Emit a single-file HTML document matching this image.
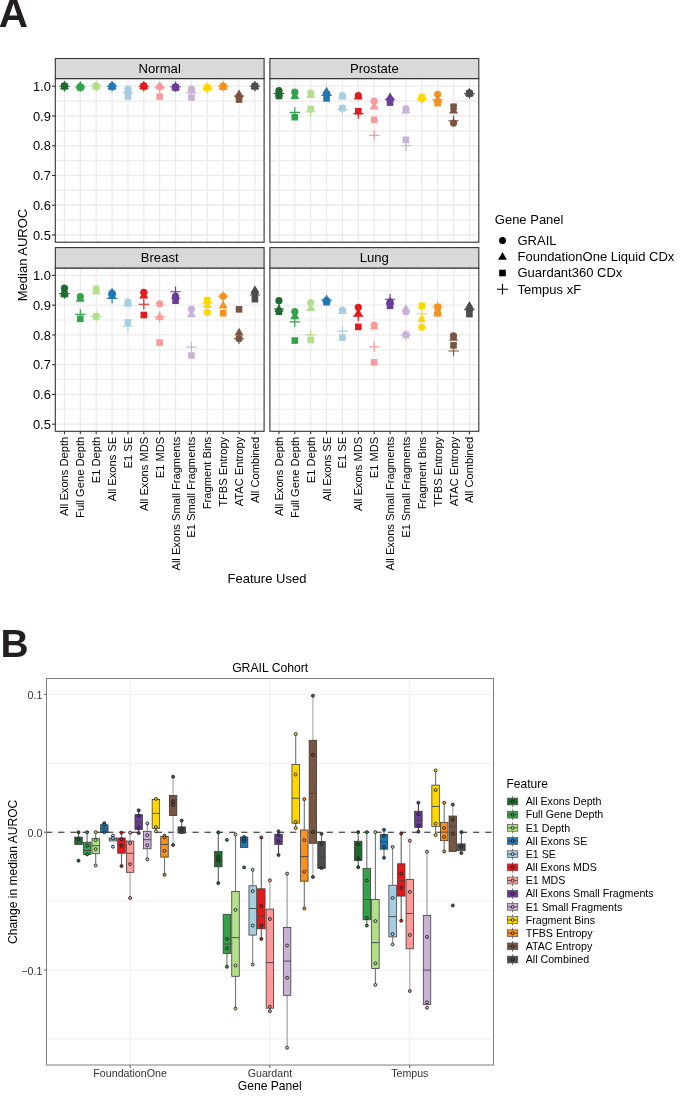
<!DOCTYPE html>
<html><head><meta charset="utf-8"><style>
html,body{margin:0;padding:0;background:#fff;width:685px;height:1097px;overflow:hidden;}
body{position:relative;font-family:"Liberation Sans", sans-serif;}
svg text{font-family:"Liberation Sans", sans-serif;}
svg{will-change:transform;}
</style></head><body>
<svg width="685" height="1097" viewBox="0 0 685 1097" style="position:absolute;left:0;top:0">
<text x="-1.2" y="27.2" font-family='Liberation Sans' font-weight="bold" font-size="40.5" fill="#231f20">A</text>
<rect x="55.3" y="78.6" width="208.8" height="163.6" fill="#fff"/>
<line x1="55.3" x2="264.1" y1="235" y2="235" stroke="#ebebeb" stroke-width="1.3"/>
<line x1="55.3" x2="264.1" y1="220.12" y2="220.12" stroke="#ebebeb" stroke-width="1.1"/>
<line x1="55.3" x2="264.1" y1="205.24" y2="205.24" stroke="#ebebeb" stroke-width="1.3"/>
<line x1="55.3" x2="264.1" y1="190.36" y2="190.36" stroke="#ebebeb" stroke-width="1.1"/>
<line x1="55.3" x2="264.1" y1="175.48" y2="175.48" stroke="#ebebeb" stroke-width="1.3"/>
<line x1="55.3" x2="264.1" y1="160.6" y2="160.6" stroke="#ebebeb" stroke-width="1.1"/>
<line x1="55.3" x2="264.1" y1="145.72" y2="145.72" stroke="#ebebeb" stroke-width="1.3"/>
<line x1="55.3" x2="264.1" y1="130.84" y2="130.84" stroke="#ebebeb" stroke-width="1.1"/>
<line x1="55.3" x2="264.1" y1="115.96" y2="115.96" stroke="#ebebeb" stroke-width="1.3"/>
<line x1="55.3" x2="264.1" y1="101.08" y2="101.08" stroke="#ebebeb" stroke-width="1.1"/>
<line x1="55.3" x2="264.1" y1="86.2" y2="86.2" stroke="#ebebeb" stroke-width="1.3"/>
<line x1="64.45" x2="64.45" y1="78.6" y2="242.2" stroke="#ebebeb" stroke-width="1.3"/>
<line x1="80.32" x2="80.32" y1="78.6" y2="242.2" stroke="#ebebeb" stroke-width="1.3"/>
<line x1="96.19" x2="96.19" y1="78.6" y2="242.2" stroke="#ebebeb" stroke-width="1.3"/>
<line x1="112.07" x2="112.07" y1="78.6" y2="242.2" stroke="#ebebeb" stroke-width="1.3"/>
<line x1="127.94" x2="127.94" y1="78.6" y2="242.2" stroke="#ebebeb" stroke-width="1.3"/>
<line x1="143.81" x2="143.81" y1="78.6" y2="242.2" stroke="#ebebeb" stroke-width="1.3"/>
<line x1="159.68" x2="159.68" y1="78.6" y2="242.2" stroke="#ebebeb" stroke-width="1.3"/>
<line x1="175.55" x2="175.55" y1="78.6" y2="242.2" stroke="#ebebeb" stroke-width="1.3"/>
<line x1="191.43" x2="191.43" y1="78.6" y2="242.2" stroke="#ebebeb" stroke-width="1.3"/>
<line x1="207.3" x2="207.3" y1="78.6" y2="242.2" stroke="#ebebeb" stroke-width="1.3"/>
<line x1="223.17" x2="223.17" y1="78.6" y2="242.2" stroke="#ebebeb" stroke-width="1.3"/>
<line x1="239.04" x2="239.04" y1="78.6" y2="242.2" stroke="#ebebeb" stroke-width="1.3"/>
<line x1="254.91" x2="254.91" y1="78.6" y2="242.2" stroke="#ebebeb" stroke-width="1.3"/>
<circle cx="64.45" cy="86.2" r="3.6" fill="#1f6b2f"/>
<path d="M64.45 81.36L68.95 89.16L59.95 89.16Z" fill="#1f6b2f"/>
<rect x="61.15" y="82.9" width="6.6" height="6.6" fill="#1f6b2f"/>
<path d="M59.25 86.2H69.65M64.45 81V91.4" stroke="#1f6b2f" stroke-width="1.15" fill="none"/>
<circle cx="80.32" cy="86.8" r="3.6" fill="#33a34a"/>
<path d="M80.32 81.36L84.82 89.16L75.82 89.16Z" fill="#33a34a"/>
<rect x="77.02" y="84.09" width="6.6" height="6.6" fill="#33a34a"/>
<path d="M75.12 86.8H85.52M80.32 81.6V92" stroke="#33a34a" stroke-width="1.15" fill="none"/>
<circle cx="96.19" cy="86.2" r="3.6" fill="#b2df8a"/>
<path d="M96.19 81.36L100.69 89.16L91.69 89.16Z" fill="#b2df8a"/>
<rect x="92.89" y="82.9" width="6.6" height="6.6" fill="#b2df8a"/>
<path d="M90.99 86.2H101.39M96.19 81V91.4" stroke="#b2df8a" stroke-width="1.15" fill="none"/>
<circle cx="112.07" cy="86.2" r="3.6" fill="#1f78b4"/>
<path d="M112.07 81.36L116.57 89.16L107.57 89.16Z" fill="#1f78b4"/>
<rect x="108.77" y="83.5" width="6.6" height="6.6" fill="#1f78b4"/>
<path d="M106.87 86.2H117.27M112.07 81V91.4" stroke="#1f78b4" stroke-width="1.15" fill="none"/>
<circle cx="127.94" cy="89.18" r="3.6" fill="#a6cee3"/>
<path d="M127.94 85.83L132.44 93.63L123.44 93.63Z" fill="#a6cee3"/>
<rect x="124.64" y="93.32" width="6.6" height="6.6" fill="#a6cee3"/>
<path d="M122.74 92.15H133.14M127.94 86.95V97.35" stroke="#a6cee3" stroke-width="1.15" fill="none"/>
<circle cx="143.81" cy="86.2" r="3.6" fill="#e31a1c"/>
<path d="M143.81 81.36L148.31 89.16L139.31 89.16Z" fill="#e31a1c"/>
<rect x="140.51" y="82.9" width="6.6" height="6.6" fill="#e31a1c"/>
<path d="M138.61 86.2H149.01M143.81 81V91.4" stroke="#e31a1c" stroke-width="1.15" fill="none"/>
<circle cx="159.68" cy="86.8" r="3.6" fill="#fb9a99"/>
<path d="M159.68 81.36L164.18 89.16L155.18 89.16Z" fill="#fb9a99"/>
<rect x="156.38" y="93.32" width="6.6" height="6.6" fill="#fb9a99"/>
<path d="M154.48 87.69H164.88M159.68 82.49V92.89" stroke="#fb9a99" stroke-width="1.15" fill="none"/>
<circle cx="175.55" cy="86.8" r="3.6" fill="#6a3d9a"/>
<path d="M175.55 81.96L180.05 89.76L171.05 89.76Z" fill="#6a3d9a"/>
<rect x="172.25" y="84.39" width="6.6" height="6.6" fill="#6a3d9a"/>
<path d="M170.35 86.8H180.75M175.55 81.6V92" stroke="#6a3d9a" stroke-width="1.15" fill="none"/>
<circle cx="191.43" cy="89.18" r="3.6" fill="#cab2d6"/>
<path d="M191.43 85.23L195.93 93.03L186.93 93.03Z" fill="#cab2d6"/>
<rect x="188.13" y="94.21" width="6.6" height="6.6" fill="#cab2d6"/>
<path d="M186.23 93.04H196.63M191.43 87.84V98.24" stroke="#cab2d6" stroke-width="1.15" fill="none"/>
<circle cx="207.3" cy="87.69" r="3.6" fill="#ffd700"/>
<path d="M207.3 82.26L211.8 90.06L202.8 90.06Z" fill="#ffd700"/>
<rect x="204" y="84.39" width="6.6" height="6.6" fill="#ffd700"/>
<path d="M202.1 88.28H212.5M207.3 83.08V93.48" stroke="#ffd700" stroke-width="1.15" fill="none"/>
<circle cx="223.17" cy="86.2" r="3.6" fill="#f8911e"/>
<path d="M223.17 81.96L227.67 89.76L218.67 89.76Z" fill="#f8911e"/>
<rect x="219.87" y="83.5" width="6.6" height="6.6" fill="#f8911e"/>
<path d="M217.97 86.2H228.37M223.17 81V91.4" stroke="#f8911e" stroke-width="1.15" fill="none"/>
<circle cx="239.04" cy="96.62" r="3.6" fill="#7a5541"/>
<path d="M239.04 89.4L243.54 97.2L234.54 97.2Z" fill="#7a5541"/>
<rect x="235.74" y="96.29" width="6.6" height="6.6" fill="#7a5541"/>
<path d="M233.84 96.02H244.24M239.04 90.82V101.22" stroke="#7a5541" stroke-width="1.15" fill="none"/>
<circle cx="254.91" cy="86.2" r="3.6" fill="#4d4d4d"/>
<path d="M254.91 81.36L259.41 89.16L250.41 89.16Z" fill="#4d4d4d"/>
<rect x="251.61" y="82.9" width="6.6" height="6.6" fill="#4d4d4d"/>
<path d="M249.71 86.2H260.11M254.91 81V91.4" stroke="#4d4d4d" stroke-width="1.15" fill="none"/>
<rect x="55.3" y="78.6" width="208.8" height="163.6" fill="none" stroke="#333" stroke-width="1.1"/>
<rect x="55.3" y="58.5" width="208.8" height="20.1" fill="#d9d9d9" stroke="#333" stroke-width="1.1"/>
<text x="159.7" y="73.3" text-anchor="middle" font-family="Liberation Sans" font-size="13.1" fill="#000">Normal</text>
<line x1="52" x2="55.3" y1="235" y2="235" stroke="#333" stroke-width="1.1"/>
<text x="50.8" y="239.6" text-anchor="end" font-family="Liberation Sans" font-size="12.9" fill="#000">0.5</text>
<line x1="52" x2="55.3" y1="205.24" y2="205.24" stroke="#333" stroke-width="1.1"/>
<text x="50.8" y="209.84" text-anchor="end" font-family="Liberation Sans" font-size="12.9" fill="#000">0.6</text>
<line x1="52" x2="55.3" y1="175.48" y2="175.48" stroke="#333" stroke-width="1.1"/>
<text x="50.8" y="180.08" text-anchor="end" font-family="Liberation Sans" font-size="12.9" fill="#000">0.7</text>
<line x1="52" x2="55.3" y1="145.72" y2="145.72" stroke="#333" stroke-width="1.1"/>
<text x="50.8" y="150.32" text-anchor="end" font-family="Liberation Sans" font-size="12.9" fill="#000">0.8</text>
<line x1="52" x2="55.3" y1="115.96" y2="115.96" stroke="#333" stroke-width="1.1"/>
<text x="50.8" y="120.56" text-anchor="end" font-family="Liberation Sans" font-size="12.9" fill="#000">0.9</text>
<line x1="52" x2="55.3" y1="86.2" y2="86.2" stroke="#333" stroke-width="1.1"/>
<text x="50.8" y="90.8" text-anchor="end" font-family="Liberation Sans" font-size="12.9" fill="#000">1.0</text>
<rect x="269.9" y="78.6" width="208.9" height="163.6" fill="#fff"/>
<line x1="269.9" x2="478.8" y1="235" y2="235" stroke="#ebebeb" stroke-width="1.3"/>
<line x1="269.9" x2="478.8" y1="220.12" y2="220.12" stroke="#ebebeb" stroke-width="1.1"/>
<line x1="269.9" x2="478.8" y1="205.24" y2="205.24" stroke="#ebebeb" stroke-width="1.3"/>
<line x1="269.9" x2="478.8" y1="190.36" y2="190.36" stroke="#ebebeb" stroke-width="1.1"/>
<line x1="269.9" x2="478.8" y1="175.48" y2="175.48" stroke="#ebebeb" stroke-width="1.3"/>
<line x1="269.9" x2="478.8" y1="160.6" y2="160.6" stroke="#ebebeb" stroke-width="1.1"/>
<line x1="269.9" x2="478.8" y1="145.72" y2="145.72" stroke="#ebebeb" stroke-width="1.3"/>
<line x1="269.9" x2="478.8" y1="130.84" y2="130.84" stroke="#ebebeb" stroke-width="1.1"/>
<line x1="269.9" x2="478.8" y1="115.96" y2="115.96" stroke="#ebebeb" stroke-width="1.3"/>
<line x1="269.9" x2="478.8" y1="101.08" y2="101.08" stroke="#ebebeb" stroke-width="1.1"/>
<line x1="269.9" x2="478.8" y1="86.2" y2="86.2" stroke="#ebebeb" stroke-width="1.3"/>
<line x1="278.95" x2="278.95" y1="78.6" y2="242.2" stroke="#ebebeb" stroke-width="1.3"/>
<line x1="294.82" x2="294.82" y1="78.6" y2="242.2" stroke="#ebebeb" stroke-width="1.3"/>
<line x1="310.69" x2="310.69" y1="78.6" y2="242.2" stroke="#ebebeb" stroke-width="1.3"/>
<line x1="326.57" x2="326.57" y1="78.6" y2="242.2" stroke="#ebebeb" stroke-width="1.3"/>
<line x1="342.44" x2="342.44" y1="78.6" y2="242.2" stroke="#ebebeb" stroke-width="1.3"/>
<line x1="358.31" x2="358.31" y1="78.6" y2="242.2" stroke="#ebebeb" stroke-width="1.3"/>
<line x1="374.18" x2="374.18" y1="78.6" y2="242.2" stroke="#ebebeb" stroke-width="1.3"/>
<line x1="390.05" x2="390.05" y1="78.6" y2="242.2" stroke="#ebebeb" stroke-width="1.3"/>
<line x1="405.93" x2="405.93" y1="78.6" y2="242.2" stroke="#ebebeb" stroke-width="1.3"/>
<line x1="421.8" x2="421.8" y1="78.6" y2="242.2" stroke="#ebebeb" stroke-width="1.3"/>
<line x1="437.67" x2="437.67" y1="78.6" y2="242.2" stroke="#ebebeb" stroke-width="1.3"/>
<line x1="453.54" x2="453.54" y1="78.6" y2="242.2" stroke="#ebebeb" stroke-width="1.3"/>
<line x1="469.41" x2="469.41" y1="78.6" y2="242.2" stroke="#ebebeb" stroke-width="1.3"/>
<circle cx="278.95" cy="90.66" r="3.6" fill="#1f6b2f"/>
<path d="M278.95 88.8L283.45 96.6L274.45 96.6Z" fill="#1f6b2f"/>
<rect x="275.65" y="92.72" width="6.6" height="6.6" fill="#1f6b2f"/>
<path d="M273.75 93.34H284.15M278.95 88.14V98.54" stroke="#1f6b2f" stroke-width="1.15" fill="none"/>
<circle cx="294.82" cy="92.15" r="3.6" fill="#33a34a"/>
<path d="M294.82 91.18L299.32 98.98L290.32 98.98Z" fill="#33a34a"/>
<rect x="291.52" y="113.85" width="6.6" height="6.6" fill="#33a34a"/>
<path d="M289.62 112.39H300.02M294.82 107.19V117.59" stroke="#33a34a" stroke-width="1.15" fill="none"/>
<circle cx="310.69" cy="93.04" r="3.6" fill="#b2df8a"/>
<path d="M310.69 90.29L315.19 98.09L306.19 98.09Z" fill="#b2df8a"/>
<rect x="307.39" y="105.82" width="6.6" height="6.6" fill="#b2df8a"/>
<path d="M305.49 111.79H315.89M310.69 106.59V116.99" stroke="#b2df8a" stroke-width="1.15" fill="none"/>
<circle cx="326.57" cy="93.64" r="3.6" fill="#1f78b4"/>
<path d="M326.57 86.72L331.07 94.52L322.07 94.52Z" fill="#1f78b4"/>
<rect x="323.27" y="95.1" width="6.6" height="6.6" fill="#1f78b4"/>
<path d="M321.37 95.43H331.77M326.57 90.23V100.63" stroke="#1f78b4" stroke-width="1.15" fill="none"/>
<circle cx="342.44" cy="95.72" r="3.6" fill="#a6cee3"/>
<path d="M342.44 91.78L346.94 99.58L337.94 99.58Z" fill="#a6cee3"/>
<rect x="339.14" y="104.92" width="6.6" height="6.6" fill="#a6cee3"/>
<path d="M337.24 109.41H347.64M342.44 104.21V114.61" stroke="#a6cee3" stroke-width="1.15" fill="none"/>
<circle cx="358.31" cy="95.72" r="3.6" fill="#e31a1c"/>
<path d="M358.31 91.78L362.81 99.58L353.81 99.58Z" fill="#e31a1c"/>
<rect x="355.01" y="107.9" width="6.6" height="6.6" fill="#e31a1c"/>
<path d="M353.11 113.58H363.51M358.31 108.38V118.78" stroke="#e31a1c" stroke-width="1.15" fill="none"/>
<circle cx="374.18" cy="101.08" r="3.6" fill="#fb9a99"/>
<path d="M374.18 101.6L378.68 109.4L369.68 109.4Z" fill="#fb9a99"/>
<rect x="370.88" y="116.53" width="6.6" height="6.6" fill="#fb9a99"/>
<path d="M368.98 135.3H379.38M374.18 130.1V140.5" stroke="#fb9a99" stroke-width="1.15" fill="none"/>
<circle cx="390.05" cy="99.59" r="3.6" fill="#6a3d9a"/>
<path d="M390.05 92.38L394.55 100.18L385.55 100.18Z" fill="#6a3d9a"/>
<rect x="386.75" y="99.27" width="6.6" height="6.6" fill="#6a3d9a"/>
<path d="M384.85 99.29H395.25M390.05 94.09V104.49" stroke="#6a3d9a" stroke-width="1.15" fill="none"/>
<circle cx="405.93" cy="108.82" r="3.6" fill="#cab2d6"/>
<path d="M405.93 105.77L410.43 113.57L401.43 113.57Z" fill="#cab2d6"/>
<rect x="402.63" y="136.47" width="6.6" height="6.6" fill="#cab2d6"/>
<path d="M400.73 145.72H411.13M405.93 140.52V150.92" stroke="#cab2d6" stroke-width="1.15" fill="none"/>
<circle cx="421.8" cy="98.4" r="3.6" fill="#ffd700"/>
<path d="M421.8 93.27L426.3 101.07L417.3 101.07Z" fill="#ffd700"/>
<rect x="418.5" y="94.21" width="6.6" height="6.6" fill="#ffd700"/>
<path d="M416.6 98.7H427M421.8 93.5V103.9" stroke="#ffd700" stroke-width="1.15" fill="none"/>
<circle cx="437.67" cy="94.24" r="3.6" fill="#f8911e"/>
<path d="M437.67 94.76L442.17 102.56L433.17 102.56Z" fill="#f8911e"/>
<rect x="434.37" y="99.86" width="6.6" height="6.6" fill="#f8911e"/>
<path d="M432.47 99.59H442.87M437.67 94.39V104.79" stroke="#f8911e" stroke-width="1.15" fill="none"/>
<circle cx="453.54" cy="123.1" r="3.6" fill="#7a5541"/>
<path d="M453.54 105.77L458.04 113.57L449.04 113.57Z" fill="#7a5541"/>
<rect x="450.24" y="103.43" width="6.6" height="6.6" fill="#7a5541"/>
<path d="M448.34 120.72H458.74M453.54 115.52V125.92" stroke="#7a5541" stroke-width="1.15" fill="none"/>
<circle cx="469.41" cy="92.75" r="3.6" fill="#4d4d4d"/>
<path d="M469.41 87.91L473.91 95.71L464.91 95.71Z" fill="#4d4d4d"/>
<rect x="466.11" y="90.34" width="6.6" height="6.6" fill="#4d4d4d"/>
<path d="M464.21 93.64H474.61M469.41 88.44V98.84" stroke="#4d4d4d" stroke-width="1.15" fill="none"/>
<rect x="269.9" y="78.6" width="208.9" height="163.6" fill="none" stroke="#333" stroke-width="1.1"/>
<rect x="269.9" y="58.5" width="208.9" height="20.1" fill="#d9d9d9" stroke="#333" stroke-width="1.1"/>
<text x="374.35" y="73.3" text-anchor="middle" font-family="Liberation Sans" font-size="13.1" fill="#000">Prostate</text>
<rect x="55.3" y="268" width="208.8" height="163.3" fill="#fff"/>
<line x1="55.3" x2="264.1" y1="424.2" y2="424.2" stroke="#ebebeb" stroke-width="1.3"/>
<line x1="55.3" x2="264.1" y1="409.32" y2="409.32" stroke="#ebebeb" stroke-width="1.1"/>
<line x1="55.3" x2="264.1" y1="394.44" y2="394.44" stroke="#ebebeb" stroke-width="1.3"/>
<line x1="55.3" x2="264.1" y1="379.56" y2="379.56" stroke="#ebebeb" stroke-width="1.1"/>
<line x1="55.3" x2="264.1" y1="364.68" y2="364.68" stroke="#ebebeb" stroke-width="1.3"/>
<line x1="55.3" x2="264.1" y1="349.8" y2="349.8" stroke="#ebebeb" stroke-width="1.1"/>
<line x1="55.3" x2="264.1" y1="334.92" y2="334.92" stroke="#ebebeb" stroke-width="1.3"/>
<line x1="55.3" x2="264.1" y1="320.04" y2="320.04" stroke="#ebebeb" stroke-width="1.1"/>
<line x1="55.3" x2="264.1" y1="305.16" y2="305.16" stroke="#ebebeb" stroke-width="1.3"/>
<line x1="55.3" x2="264.1" y1="290.28" y2="290.28" stroke="#ebebeb" stroke-width="1.1"/>
<line x1="55.3" x2="264.1" y1="275.4" y2="275.4" stroke="#ebebeb" stroke-width="1.3"/>
<line x1="64.45" x2="64.45" y1="268" y2="431.3" stroke="#ebebeb" stroke-width="1.3"/>
<line x1="80.32" x2="80.32" y1="268" y2="431.3" stroke="#ebebeb" stroke-width="1.3"/>
<line x1="96.19" x2="96.19" y1="268" y2="431.3" stroke="#ebebeb" stroke-width="1.3"/>
<line x1="112.07" x2="112.07" y1="268" y2="431.3" stroke="#ebebeb" stroke-width="1.3"/>
<line x1="127.94" x2="127.94" y1="268" y2="431.3" stroke="#ebebeb" stroke-width="1.3"/>
<line x1="143.81" x2="143.81" y1="268" y2="431.3" stroke="#ebebeb" stroke-width="1.3"/>
<line x1="159.68" x2="159.68" y1="268" y2="431.3" stroke="#ebebeb" stroke-width="1.3"/>
<line x1="175.55" x2="175.55" y1="268" y2="431.3" stroke="#ebebeb" stroke-width="1.3"/>
<line x1="191.43" x2="191.43" y1="268" y2="431.3" stroke="#ebebeb" stroke-width="1.3"/>
<line x1="207.3" x2="207.3" y1="268" y2="431.3" stroke="#ebebeb" stroke-width="1.3"/>
<line x1="223.17" x2="223.17" y1="268" y2="431.3" stroke="#ebebeb" stroke-width="1.3"/>
<line x1="239.04" x2="239.04" y1="268" y2="431.3" stroke="#ebebeb" stroke-width="1.3"/>
<line x1="254.91" x2="254.91" y1="268" y2="431.3" stroke="#ebebeb" stroke-width="1.3"/>
<circle cx="64.45" cy="288.2" r="3.6" fill="#1f6b2f"/>
<path d="M64.45 288.72L68.95 296.52L59.95 296.52Z" fill="#1f6b2f"/>
<rect x="61.15" y="290.85" width="6.6" height="6.6" fill="#1f6b2f"/>
<path d="M59.25 293.55H69.65M64.45 288.35V298.75" stroke="#1f6b2f" stroke-width="1.15" fill="none"/>
<circle cx="80.32" cy="296.53" r="3.6" fill="#33a34a"/>
<path d="M80.32 294.07L84.82 301.87L75.82 301.87Z" fill="#33a34a"/>
<rect x="77.02" y="315.55" width="6.6" height="6.6" fill="#33a34a"/>
<path d="M75.12 314.39H85.52M80.32 309.19V319.59" stroke="#33a34a" stroke-width="1.15" fill="none"/>
<circle cx="96.19" cy="288.79" r="3.6" fill="#b2df8a"/>
<path d="M96.19 286.34L100.69 294.14L91.69 294.14Z" fill="#b2df8a"/>
<rect x="92.89" y="313.17" width="6.6" height="6.6" fill="#b2df8a"/>
<path d="M90.99 316.47H101.39M96.19 311.27V321.67" stroke="#b2df8a" stroke-width="1.15" fill="none"/>
<circle cx="112.07" cy="293.26" r="3.6" fill="#1f78b4"/>
<path d="M112.07 287.82L116.57 295.62L107.57 295.62Z" fill="#1f78b4"/>
<rect x="108.77" y="291.44" width="6.6" height="6.6" fill="#1f78b4"/>
<path d="M106.87 298.32H117.27M112.07 293.12V303.52" stroke="#1f78b4" stroke-width="1.15" fill="none"/>
<circle cx="127.94" cy="302.18" r="3.6" fill="#a6cee3"/>
<path d="M127.94 298.84L132.44 306.64L123.44 306.64Z" fill="#a6cee3"/>
<rect x="124.64" y="319.12" width="6.6" height="6.6" fill="#a6cee3"/>
<path d="M122.74 326.29H133.14M127.94 321.09V331.49" stroke="#a6cee3" stroke-width="1.15" fill="none"/>
<circle cx="143.81" cy="292.36" r="3.6" fill="#e31a1c"/>
<path d="M143.81 290.8L148.31 298.6L139.31 298.6Z" fill="#e31a1c"/>
<rect x="140.51" y="311.68" width="6.6" height="6.6" fill="#e31a1c"/>
<path d="M138.61 304.27H149.01M143.81 299.07V309.47" stroke="#e31a1c" stroke-width="1.15" fill="none"/>
<circle cx="159.68" cy="303.97" r="3.6" fill="#fb9a99"/>
<path d="M159.68 311.93L164.18 319.73L155.18 319.73Z" fill="#fb9a99"/>
<rect x="156.38" y="339.36" width="6.6" height="6.6" fill="#fb9a99"/>
<path d="M154.48 316.77H164.88M159.68 311.57V321.97" stroke="#fb9a99" stroke-width="1.15" fill="none"/>
<circle cx="175.55" cy="296.23" r="3.6" fill="#6a3d9a"/>
<path d="M175.55 291.1L180.05 298.9L171.05 298.9Z" fill="#6a3d9a"/>
<rect x="172.25" y="297.4" width="6.6" height="6.6" fill="#6a3d9a"/>
<path d="M170.35 291.77H180.75M175.55 286.57V296.97" stroke="#6a3d9a" stroke-width="1.15" fill="none"/>
<circle cx="191.43" cy="309.03" r="3.6" fill="#cab2d6"/>
<path d="M191.43 309.55L195.93 317.35L186.93 317.35Z" fill="#cab2d6"/>
<rect x="188.13" y="352.15" width="6.6" height="6.6" fill="#cab2d6"/>
<path d="M186.23 347.12H196.63M191.43 341.92V352.32" stroke="#cab2d6" stroke-width="1.15" fill="none"/>
<circle cx="207.3" cy="312.3" r="3.6" fill="#ffd700"/>
<path d="M207.3 300.32L211.8 308.12L202.8 308.12Z" fill="#ffd700"/>
<rect x="204" y="296.8" width="6.6" height="6.6" fill="#ffd700"/>
<path d="M202.1 303.08H212.5M207.3 297.88V308.28" stroke="#ffd700" stroke-width="1.15" fill="none"/>
<circle cx="223.17" cy="296.23" r="3.6" fill="#f8911e"/>
<path d="M223.17 300.62L227.67 308.42L218.67 308.42Z" fill="#f8911e"/>
<rect x="219.87" y="309.9" width="6.6" height="6.6" fill="#f8911e"/>
<path d="M217.97 296.23H228.37M223.17 291.03V301.43" stroke="#f8911e" stroke-width="1.15" fill="none"/>
<circle cx="239.04" cy="338.49" r="3.6" fill="#7a5541"/>
<path d="M239.04 327.7L243.54 335.5L234.54 335.5Z" fill="#7a5541"/>
<rect x="235.74" y="306.03" width="6.6" height="6.6" fill="#7a5541"/>
<path d="M233.84 338.79H244.24M239.04 333.59V343.99" stroke="#7a5541" stroke-width="1.15" fill="none"/>
<circle cx="254.91" cy="293.26" r="3.6" fill="#4d4d4d"/>
<path d="M254.91 285.15L259.41 292.95L250.41 292.95Z" fill="#4d4d4d"/>
<rect x="251.61" y="295.91" width="6.6" height="6.6" fill="#4d4d4d"/>
<path d="M249.71 295.04H260.11M254.91 289.84V300.24" stroke="#4d4d4d" stroke-width="1.15" fill="none"/>
<rect x="55.3" y="268" width="208.8" height="163.3" fill="none" stroke="#333" stroke-width="1.1"/>
<rect x="55.3" y="247.6" width="208.8" height="20.4" fill="#d9d9d9" stroke="#333" stroke-width="1.1"/>
<text x="159.7" y="262.4" text-anchor="middle" font-family="Liberation Sans" font-size="13.1" fill="#000">Breast</text>
<line x1="52" x2="55.3" y1="424.2" y2="424.2" stroke="#333" stroke-width="1.1"/>
<text x="50.8" y="428.8" text-anchor="end" font-family="Liberation Sans" font-size="12.9" fill="#000">0.5</text>
<line x1="52" x2="55.3" y1="394.44" y2="394.44" stroke="#333" stroke-width="1.1"/>
<text x="50.8" y="399.04" text-anchor="end" font-family="Liberation Sans" font-size="12.9" fill="#000">0.6</text>
<line x1="52" x2="55.3" y1="364.68" y2="364.68" stroke="#333" stroke-width="1.1"/>
<text x="50.8" y="369.28" text-anchor="end" font-family="Liberation Sans" font-size="12.9" fill="#000">0.7</text>
<line x1="52" x2="55.3" y1="334.92" y2="334.92" stroke="#333" stroke-width="1.1"/>
<text x="50.8" y="339.52" text-anchor="end" font-family="Liberation Sans" font-size="12.9" fill="#000">0.8</text>
<line x1="52" x2="55.3" y1="305.16" y2="305.16" stroke="#333" stroke-width="1.1"/>
<text x="50.8" y="309.76" text-anchor="end" font-family="Liberation Sans" font-size="12.9" fill="#000">0.9</text>
<line x1="52" x2="55.3" y1="275.4" y2="275.4" stroke="#333" stroke-width="1.1"/>
<text x="50.8" y="280" text-anchor="end" font-family="Liberation Sans" font-size="12.9" fill="#000">1.0</text>
<line x1="64.45" x2="64.45" y1="431.3" y2="434.3" stroke="#333" stroke-width="1.1"/>
<text transform="translate(68.45 436.8) rotate(-90)" text-anchor="end" font-family="Liberation Sans" font-size="11.15" fill="#000">All Exons Depth</text>
<line x1="80.32" x2="80.32" y1="431.3" y2="434.3" stroke="#333" stroke-width="1.1"/>
<text transform="translate(84.32 436.8) rotate(-90)" text-anchor="end" font-family="Liberation Sans" font-size="11.15" fill="#000">Full Gene Depth</text>
<line x1="96.19" x2="96.19" y1="431.3" y2="434.3" stroke="#333" stroke-width="1.1"/>
<text transform="translate(100.19 436.8) rotate(-90)" text-anchor="end" font-family="Liberation Sans" font-size="11.15" fill="#000">E1 Depth</text>
<line x1="112.07" x2="112.07" y1="431.3" y2="434.3" stroke="#333" stroke-width="1.1"/>
<text transform="translate(116.07 436.8) rotate(-90)" text-anchor="end" font-family="Liberation Sans" font-size="11.15" fill="#000">All Exons SE</text>
<line x1="127.94" x2="127.94" y1="431.3" y2="434.3" stroke="#333" stroke-width="1.1"/>
<text transform="translate(131.94 436.8) rotate(-90)" text-anchor="end" font-family="Liberation Sans" font-size="11.15" fill="#000">E1 SE</text>
<line x1="143.81" x2="143.81" y1="431.3" y2="434.3" stroke="#333" stroke-width="1.1"/>
<text transform="translate(147.81 436.8) rotate(-90)" text-anchor="end" font-family="Liberation Sans" font-size="11.15" fill="#000">All Exons MDS</text>
<line x1="159.68" x2="159.68" y1="431.3" y2="434.3" stroke="#333" stroke-width="1.1"/>
<text transform="translate(163.68 436.8) rotate(-90)" text-anchor="end" font-family="Liberation Sans" font-size="11.15" fill="#000">E1 MDS</text>
<line x1="175.55" x2="175.55" y1="431.3" y2="434.3" stroke="#333" stroke-width="1.1"/>
<text transform="translate(179.55 436.8) rotate(-90)" text-anchor="end" font-family="Liberation Sans" font-size="11.15" fill="#000">All Exons Small Fragments</text>
<line x1="191.43" x2="191.43" y1="431.3" y2="434.3" stroke="#333" stroke-width="1.1"/>
<text transform="translate(195.43 436.8) rotate(-90)" text-anchor="end" font-family="Liberation Sans" font-size="11.15" fill="#000">E1 Small Fragments</text>
<line x1="207.3" x2="207.3" y1="431.3" y2="434.3" stroke="#333" stroke-width="1.1"/>
<text transform="translate(211.3 436.8) rotate(-90)" text-anchor="end" font-family="Liberation Sans" font-size="11.15" fill="#000">Fragment Bins</text>
<line x1="223.17" x2="223.17" y1="431.3" y2="434.3" stroke="#333" stroke-width="1.1"/>
<text transform="translate(227.17 436.8) rotate(-90)" text-anchor="end" font-family="Liberation Sans" font-size="11.15" fill="#000">TFBS Entropy</text>
<line x1="239.04" x2="239.04" y1="431.3" y2="434.3" stroke="#333" stroke-width="1.1"/>
<text transform="translate(243.04 436.8) rotate(-90)" text-anchor="end" font-family="Liberation Sans" font-size="11.15" fill="#000">ATAC Entropy</text>
<line x1="254.91" x2="254.91" y1="431.3" y2="434.3" stroke="#333" stroke-width="1.1"/>
<text transform="translate(258.91 436.8) rotate(-90)" text-anchor="end" font-family="Liberation Sans" font-size="11.15" fill="#000">All Combined</text>
<rect x="269.9" y="268" width="208.9" height="163.3" fill="#fff"/>
<line x1="269.9" x2="478.8" y1="424.2" y2="424.2" stroke="#ebebeb" stroke-width="1.3"/>
<line x1="269.9" x2="478.8" y1="409.32" y2="409.32" stroke="#ebebeb" stroke-width="1.1"/>
<line x1="269.9" x2="478.8" y1="394.44" y2="394.44" stroke="#ebebeb" stroke-width="1.3"/>
<line x1="269.9" x2="478.8" y1="379.56" y2="379.56" stroke="#ebebeb" stroke-width="1.1"/>
<line x1="269.9" x2="478.8" y1="364.68" y2="364.68" stroke="#ebebeb" stroke-width="1.3"/>
<line x1="269.9" x2="478.8" y1="349.8" y2="349.8" stroke="#ebebeb" stroke-width="1.1"/>
<line x1="269.9" x2="478.8" y1="334.92" y2="334.92" stroke="#ebebeb" stroke-width="1.3"/>
<line x1="269.9" x2="478.8" y1="320.04" y2="320.04" stroke="#ebebeb" stroke-width="1.1"/>
<line x1="269.9" x2="478.8" y1="305.16" y2="305.16" stroke="#ebebeb" stroke-width="1.3"/>
<line x1="269.9" x2="478.8" y1="290.28" y2="290.28" stroke="#ebebeb" stroke-width="1.1"/>
<line x1="269.9" x2="478.8" y1="275.4" y2="275.4" stroke="#ebebeb" stroke-width="1.3"/>
<line x1="278.95" x2="278.95" y1="268" y2="431.3" stroke="#ebebeb" stroke-width="1.3"/>
<line x1="294.82" x2="294.82" y1="268" y2="431.3" stroke="#ebebeb" stroke-width="1.3"/>
<line x1="310.69" x2="310.69" y1="268" y2="431.3" stroke="#ebebeb" stroke-width="1.3"/>
<line x1="326.57" x2="326.57" y1="268" y2="431.3" stroke="#ebebeb" stroke-width="1.3"/>
<line x1="342.44" x2="342.44" y1="268" y2="431.3" stroke="#ebebeb" stroke-width="1.3"/>
<line x1="358.31" x2="358.31" y1="268" y2="431.3" stroke="#ebebeb" stroke-width="1.3"/>
<line x1="374.18" x2="374.18" y1="268" y2="431.3" stroke="#ebebeb" stroke-width="1.3"/>
<line x1="390.05" x2="390.05" y1="268" y2="431.3" stroke="#ebebeb" stroke-width="1.3"/>
<line x1="405.93" x2="405.93" y1="268" y2="431.3" stroke="#ebebeb" stroke-width="1.3"/>
<line x1="421.8" x2="421.8" y1="268" y2="431.3" stroke="#ebebeb" stroke-width="1.3"/>
<line x1="437.67" x2="437.67" y1="268" y2="431.3" stroke="#ebebeb" stroke-width="1.3"/>
<line x1="453.54" x2="453.54" y1="268" y2="431.3" stroke="#ebebeb" stroke-width="1.3"/>
<line x1="469.41" x2="469.41" y1="268" y2="431.3" stroke="#ebebeb" stroke-width="1.3"/>
<circle cx="278.95" cy="300.7" r="3.6" fill="#1f6b2f"/>
<path d="M278.95 304.19L283.45 311.99L274.45 311.99Z" fill="#1f6b2f"/>
<rect x="275.65" y="308.41" width="6.6" height="6.6" fill="#1f6b2f"/>
<path d="M273.75 309.03H284.15M278.95 303.83V314.23" stroke="#1f6b2f" stroke-width="1.15" fill="none"/>
<circle cx="294.82" cy="311.71" r="3.6" fill="#33a34a"/>
<path d="M294.82 311.34L299.32 319.14L290.32 319.14Z" fill="#33a34a"/>
<rect x="291.52" y="337.27" width="6.6" height="6.6" fill="#33a34a"/>
<path d="M289.62 321.83H300.02M294.82 316.63V327.03" stroke="#33a34a" stroke-width="1.15" fill="none"/>
<circle cx="310.69" cy="302.48" r="3.6" fill="#b2df8a"/>
<path d="M310.69 303.3L315.19 311.1L306.19 311.1Z" fill="#b2df8a"/>
<rect x="307.39" y="336.68" width="6.6" height="6.6" fill="#b2df8a"/>
<path d="M305.49 334.92H315.89M310.69 329.72V340.12" stroke="#b2df8a" stroke-width="1.15" fill="none"/>
<circle cx="326.57" cy="300.7" r="3.6" fill="#1f78b4"/>
<path d="M326.57 294.67L331.07 302.47L322.07 302.47Z" fill="#1f78b4"/>
<rect x="323.27" y="298.88" width="6.6" height="6.6" fill="#1f78b4"/>
<path d="M321.37 300.1H331.77M326.57 294.9V305.3" stroke="#1f78b4" stroke-width="1.15" fill="none"/>
<circle cx="342.44" cy="310.22" r="3.6" fill="#a6cee3"/>
<path d="M342.44 306.28L346.94 314.08L337.94 314.08Z" fill="#a6cee3"/>
<rect x="339.14" y="334.3" width="6.6" height="6.6" fill="#a6cee3"/>
<path d="M337.24 331.05H347.64M342.44 325.85V336.25" stroke="#a6cee3" stroke-width="1.15" fill="none"/>
<circle cx="358.31" cy="307.24" r="3.6" fill="#e31a1c"/>
<path d="M358.31 308.36L362.81 316.16L353.81 316.16Z" fill="#e31a1c"/>
<rect x="355.01" y="323.58" width="6.6" height="6.6" fill="#e31a1c"/>
<path d="M353.11 316.17H363.51M358.31 310.97V321.37" stroke="#e31a1c" stroke-width="1.15" fill="none"/>
<circle cx="374.18" cy="325.1" r="3.6" fill="#fb9a99"/>
<path d="M374.18 321.75L378.68 329.55L369.68 329.55Z" fill="#fb9a99"/>
<rect x="370.88" y="359" width="6.6" height="6.6" fill="#fb9a99"/>
<path d="M368.98 346.82H379.38M374.18 341.62V352.02" stroke="#fb9a99" stroke-width="1.15" fill="none"/>
<circle cx="390.05" cy="302.18" r="3.6" fill="#6a3d9a"/>
<path d="M390.05 296.75L394.55 304.55L385.55 304.55Z" fill="#6a3d9a"/>
<rect x="386.75" y="302.46" width="6.6" height="6.6" fill="#6a3d9a"/>
<path d="M384.85 299.21H395.25M390.05 294.01V304.41" stroke="#6a3d9a" stroke-width="1.15" fill="none"/>
<circle cx="405.93" cy="311.71" r="3.6" fill="#cab2d6"/>
<path d="M405.93 303.9L410.43 311.7L401.43 311.7Z" fill="#cab2d6"/>
<rect x="402.63" y="331.62" width="6.6" height="6.6" fill="#cab2d6"/>
<path d="M400.73 334.92H411.13M405.93 329.72V340.12" stroke="#cab2d6" stroke-width="1.15" fill="none"/>
<circle cx="421.8" cy="327.18" r="3.6" fill="#ffd700"/>
<path d="M421.8 314.31L426.3 322.11L417.3 322.11Z" fill="#ffd700"/>
<rect x="418.5" y="302.46" width="6.6" height="6.6" fill="#ffd700"/>
<path d="M416.6 313.79H427M421.8 308.59V318.99" stroke="#ffd700" stroke-width="1.15" fill="none"/>
<circle cx="437.67" cy="313.2" r="3.6" fill="#f8911e"/>
<path d="M437.67 308.36L442.17 316.16L433.17 316.16Z" fill="#f8911e"/>
<rect x="434.37" y="303.65" width="6.6" height="6.6" fill="#f8911e"/>
<path d="M432.47 306.95H442.87M437.67 301.75V312.15" stroke="#f8911e" stroke-width="1.15" fill="none"/>
<circle cx="453.54" cy="335.81" r="3.6" fill="#7a5541"/>
<path d="M453.54 333.06L458.04 340.86L449.04 340.86Z" fill="#7a5541"/>
<rect x="450.24" y="342.04" width="6.6" height="6.6" fill="#7a5541"/>
<path d="M448.34 350.99H458.74M453.54 345.79V356.19" stroke="#7a5541" stroke-width="1.15" fill="none"/>
<circle cx="469.41" cy="309.62" r="3.6" fill="#4d4d4d"/>
<path d="M469.41 300.92L473.91 308.72L464.91 308.72Z" fill="#4d4d4d"/>
<rect x="466.11" y="310.79" width="6.6" height="6.6" fill="#4d4d4d"/>
<path d="M464.21 309.62H474.61M469.41 304.42V314.82" stroke="#4d4d4d" stroke-width="1.15" fill="none"/>
<rect x="269.9" y="268" width="208.9" height="163.3" fill="none" stroke="#333" stroke-width="1.1"/>
<rect x="269.9" y="247.6" width="208.9" height="20.4" fill="#d9d9d9" stroke="#333" stroke-width="1.1"/>
<text x="374.35" y="262.4" text-anchor="middle" font-family="Liberation Sans" font-size="13.1" fill="#000">Lung</text>
<line x1="278.95" x2="278.95" y1="431.3" y2="434.3" stroke="#333" stroke-width="1.1"/>
<text transform="translate(282.95 436.8) rotate(-90)" text-anchor="end" font-family="Liberation Sans" font-size="11.15" fill="#000">All Exons Depth</text>
<line x1="294.82" x2="294.82" y1="431.3" y2="434.3" stroke="#333" stroke-width="1.1"/>
<text transform="translate(298.82 436.8) rotate(-90)" text-anchor="end" font-family="Liberation Sans" font-size="11.15" fill="#000">Full Gene Depth</text>
<line x1="310.69" x2="310.69" y1="431.3" y2="434.3" stroke="#333" stroke-width="1.1"/>
<text transform="translate(314.69 436.8) rotate(-90)" text-anchor="end" font-family="Liberation Sans" font-size="11.15" fill="#000">E1 Depth</text>
<line x1="326.57" x2="326.57" y1="431.3" y2="434.3" stroke="#333" stroke-width="1.1"/>
<text transform="translate(330.57 436.8) rotate(-90)" text-anchor="end" font-family="Liberation Sans" font-size="11.15" fill="#000">All Exons SE</text>
<line x1="342.44" x2="342.44" y1="431.3" y2="434.3" stroke="#333" stroke-width="1.1"/>
<text transform="translate(346.44 436.8) rotate(-90)" text-anchor="end" font-family="Liberation Sans" font-size="11.15" fill="#000">E1 SE</text>
<line x1="358.31" x2="358.31" y1="431.3" y2="434.3" stroke="#333" stroke-width="1.1"/>
<text transform="translate(362.31 436.8) rotate(-90)" text-anchor="end" font-family="Liberation Sans" font-size="11.15" fill="#000">All Exons MDS</text>
<line x1="374.18" x2="374.18" y1="431.3" y2="434.3" stroke="#333" stroke-width="1.1"/>
<text transform="translate(378.18 436.8) rotate(-90)" text-anchor="end" font-family="Liberation Sans" font-size="11.15" fill="#000">E1 MDS</text>
<line x1="390.05" x2="390.05" y1="431.3" y2="434.3" stroke="#333" stroke-width="1.1"/>
<text transform="translate(394.05 436.8) rotate(-90)" text-anchor="end" font-family="Liberation Sans" font-size="11.15" fill="#000">All Exons Small Fragments</text>
<line x1="405.93" x2="405.93" y1="431.3" y2="434.3" stroke="#333" stroke-width="1.1"/>
<text transform="translate(409.93 436.8) rotate(-90)" text-anchor="end" font-family="Liberation Sans" font-size="11.15" fill="#000">E1 Small Fragments</text>
<line x1="421.8" x2="421.8" y1="431.3" y2="434.3" stroke="#333" stroke-width="1.1"/>
<text transform="translate(425.8 436.8) rotate(-90)" text-anchor="end" font-family="Liberation Sans" font-size="11.15" fill="#000">Fragment Bins</text>
<line x1="437.67" x2="437.67" y1="431.3" y2="434.3" stroke="#333" stroke-width="1.1"/>
<text transform="translate(441.67 436.8) rotate(-90)" text-anchor="end" font-family="Liberation Sans" font-size="11.15" fill="#000">TFBS Entropy</text>
<line x1="453.54" x2="453.54" y1="431.3" y2="434.3" stroke="#333" stroke-width="1.1"/>
<text transform="translate(457.54 436.8) rotate(-90)" text-anchor="end" font-family="Liberation Sans" font-size="11.15" fill="#000">ATAC Entropy</text>
<line x1="469.41" x2="469.41" y1="431.3" y2="434.3" stroke="#333" stroke-width="1.1"/>
<text transform="translate(473.41 436.8) rotate(-90)" text-anchor="end" font-family="Liberation Sans" font-size="11.15" fill="#000">All Combined</text>
<text transform="translate(27 255) rotate(-90)" text-anchor="middle" font-family="Liberation Sans" font-size="13" fill="#000">Median AUROC</text>
<text x="267" y="583" text-anchor="middle" font-family="Liberation Sans" font-size="13" fill="#000">Feature Used</text>
<text x="494.8" y="224" font-family="Liberation Sans" font-size="13" fill="#000">Gene Panel</text>
<circle cx="502.5" cy="240.6" r="3.5" fill="#000"/>
<text x="517.5" y="244.9" font-family="Liberation Sans" font-size="13" fill="#000">GRAIL</text>
<path d="M502.5 252.1L506.9 259.8L498.1 259.8Z" fill="#000"/>
<text x="517.5" y="261.1" font-family="Liberation Sans" font-size="13" fill="#000">FoundationOne Liquid CDx</text>
<rect x="499.2" y="269.7" width="6.6" height="6.6" fill="#000"/>
<text x="517.5" y="277.3" font-family="Liberation Sans" font-size="13" fill="#000">Guardant360 CDx</text>
<path d="M497 289.2H508M502.5 283.8V294.6" stroke="#000" stroke-width="1.15"/>
<text x="517.5" y="293.5" font-family="Liberation Sans" font-size="13" fill="#000">Tempus xF</text>
<text x="0.5" y="656.8" font-family="Liberation Sans" font-weight="bold" font-size="39" fill="#231f20">B</text>
<text x="270.2" y="671.9" text-anchor="middle" font-family="Liberation Sans" font-size="12.2" fill="#000">GRAIL Cohort</text>
<line x1="46.5" x2="493.5" y1="694.4" y2="694.4" stroke="#f2f2f2" stroke-width="1.3"/>
<line x1="46.5" x2="493.5" y1="763.3" y2="763.3" stroke="#f2f2f2" stroke-width="1.3"/>
<line x1="46.5" x2="493.5" y1="832.2" y2="832.2" stroke="#f2f2f2" stroke-width="1.3"/>
<line x1="46.5" x2="493.5" y1="901.1" y2="901.1" stroke="#f2f2f2" stroke-width="1.3"/>
<line x1="46.5" x2="493.5" y1="970" y2="970" stroke="#f2f2f2" stroke-width="1.3"/>
<line x1="46.5" x2="493.5" y1="1038.9" y2="1038.9" stroke="#f2f2f2" stroke-width="1.3"/>
<line x1="130.1" x2="130.1" y1="678.5" y2="1065" stroke="#f2f2f2" stroke-width="1.3"/>
<line x1="270" x2="270" y1="678.5" y2="1065" stroke="#f2f2f2" stroke-width="1.3"/>
<line x1="409.5" x2="409.5" y1="678.5" y2="1065" stroke="#f2f2f2" stroke-width="1.3"/>
<line x1="46.1" x2="493.5" y1="832.2" y2="832.2" stroke="#222" stroke-width="1.1" stroke-dasharray="6.1 6.1"/>
<line x1="78.5" x2="78.5" y1="832.2" y2="837.1" stroke="#666" stroke-width="1.15"/>
<rect x="74.75" y="837.1" width="7.5" height="7.4" fill="#1f6b2f" stroke="#333" stroke-width="0.75"/>
<line x1="74.75" x2="82.25" y1="838.6" y2="838.6" stroke="#444" stroke-width="0.9"/>
<circle cx="78.5" cy="832.2" r="1.5" fill="#1f6b2f" stroke="#111" stroke-width="0.8"/>
<circle cx="78.5" cy="838.9" r="1.5" fill="#1f6b2f" stroke="#111" stroke-width="0.8"/>
<circle cx="78.5" cy="860.7" r="1.5" fill="#1f6b2f" stroke="#111" stroke-width="0.8"/>
<line x1="87.1" x2="87.1" y1="832.2" y2="842.2" stroke="#777" stroke-width="1.15"/>
<rect x="83.35" y="842.2" width="7.5" height="12.2" fill="#33a34a" stroke="#333" stroke-width="0.75"/>
<line x1="83.35" x2="90.85" y1="850.5" y2="850.5" stroke="#444" stroke-width="0.9"/>
<circle cx="87.1" cy="832.2" r="1.5" fill="#33a34a" stroke="#111" stroke-width="0.8"/>
<circle cx="87.1" cy="845.6" r="1.5" fill="#33a34a" stroke="#111" stroke-width="0.8"/>
<circle cx="87.1" cy="854.4" r="1.5" fill="#33a34a" stroke="#111" stroke-width="0.8"/>
<line x1="95.7" x2="95.7" y1="832.2" y2="838.3" stroke="#777" stroke-width="1.15"/>
<line x1="95.7" x2="95.7" y1="853.7" y2="865.5" stroke="#777" stroke-width="1.15"/>
<rect x="91.95" y="838.3" width="7.5" height="15.4" fill="#b2df8a" stroke="#333" stroke-width="0.75"/>
<line x1="91.95" x2="99.45" y1="845.7" y2="845.7" stroke="#444" stroke-width="0.9"/>
<circle cx="95.7" cy="832.2" r="1.5" fill="#b2df8a" stroke="#111" stroke-width="0.8"/>
<circle cx="95.7" cy="840.1" r="1.5" fill="#b2df8a" stroke="#111" stroke-width="0.8"/>
<circle cx="95.7" cy="849.2" r="1.5" fill="#b2df8a" stroke="#111" stroke-width="0.8"/>
<circle cx="95.7" cy="865.5" r="1.5" fill="#b2df8a" stroke="#111" stroke-width="0.8"/>
<line x1="104.3" x2="104.3" y1="822.6" y2="824.8" stroke="#777" stroke-width="1.15"/>
<rect x="100.55" y="824.8" width="7.5" height="7.6" fill="#1f78b4" stroke="#333" stroke-width="0.75"/>
<line x1="100.55" x2="108.05" y1="828.2" y2="828.2" stroke="#444" stroke-width="0.9"/>
<circle cx="104.3" cy="823.2" r="1.5" fill="#1f78b4" stroke="#111" stroke-width="0.8"/>
<circle cx="104.3" cy="824.6" r="1.5" fill="#1f78b4" stroke="#111" stroke-width="0.8"/>
<circle cx="104.3" cy="832.2" r="1.5" fill="#1f78b4" stroke="#111" stroke-width="0.8"/>
<line x1="112.9" x2="112.9" y1="835.7" y2="838" stroke="#888" stroke-width="1.15"/>
<rect x="109.15" y="838" width="7.5" height="3" fill="#a6cee3" stroke="#333" stroke-width="0.75"/>
<line x1="109.15" x2="116.65" y1="839" y2="839" stroke="#444" stroke-width="0.9"/>
<circle cx="112.9" cy="835.7" r="1.5" fill="#a6cee3" stroke="#111" stroke-width="0.8"/>
<circle cx="112.9" cy="838.3" r="1.5" fill="#a6cee3" stroke="#111" stroke-width="0.8"/>
<circle cx="112.9" cy="846.7" r="1.5" fill="#a6cee3" stroke="#111" stroke-width="0.8"/>
<line x1="121.5" x2="121.5" y1="832.7" y2="838" stroke="#666" stroke-width="1.15"/>
<line x1="121.5" x2="121.5" y1="853.2" y2="866" stroke="#666" stroke-width="1.15"/>
<rect x="117.75" y="838" width="7.5" height="15.2" fill="#e31a1c" stroke="#333" stroke-width="0.75"/>
<line x1="117.75" x2="125.25" y1="845.3" y2="845.3" stroke="#444" stroke-width="0.9"/>
<circle cx="121.5" cy="832.7" r="1.5" fill="#e31a1c" stroke="#111" stroke-width="0.8"/>
<circle cx="121.5" cy="839.2" r="1.5" fill="#e31a1c" stroke="#111" stroke-width="0.8"/>
<circle cx="121.5" cy="845.7" r="1.5" fill="#e31a1c" stroke="#111" stroke-width="0.8"/>
<circle cx="121.5" cy="866" r="1.5" fill="#e31a1c" stroke="#111" stroke-width="0.8"/>
<line x1="130.1" x2="130.1" y1="832.7" y2="841" stroke="#aaa" stroke-width="1.15"/>
<line x1="130.1" x2="130.1" y1="872.3" y2="898" stroke="#aaa" stroke-width="1.15"/>
<rect x="126.35" y="841" width="7.5" height="31.3" fill="#fb9a99" stroke="#333" stroke-width="0.75"/>
<line x1="126.35" x2="133.85" y1="853.3" y2="853.3" stroke="#444" stroke-width="0.9"/>
<circle cx="130.1" cy="832.7" r="1.5" fill="#fb9a99" stroke="#111" stroke-width="0.8"/>
<circle cx="130.1" cy="843.2" r="1.5" fill="#fb9a99" stroke="#111" stroke-width="0.8"/>
<circle cx="130.1" cy="864.2" r="1.5" fill="#fb9a99" stroke="#111" stroke-width="0.8"/>
<circle cx="130.1" cy="898" r="1.5" fill="#fb9a99" stroke="#111" stroke-width="0.8"/>
<line x1="138.7" x2="138.7" y1="810.3" y2="814.7" stroke="#444" stroke-width="1.15"/>
<line x1="138.7" x2="138.7" y1="829.6" y2="833.1" stroke="#444" stroke-width="1.15"/>
<rect x="134.95" y="814.7" width="7.5" height="14.9" fill="#6a3d9a" stroke="#333" stroke-width="0.75"/>
<line x1="134.95" x2="142.45" y1="822.2" y2="822.2" stroke="#444" stroke-width="0.9"/>
<circle cx="138.7" cy="810.3" r="1.5" fill="#6a3d9a" stroke="#111" stroke-width="0.8"/>
<circle cx="138.7" cy="815.9" r="1.5" fill="#6a3d9a" stroke="#111" stroke-width="0.8"/>
<circle cx="138.7" cy="827.5" r="1.5" fill="#6a3d9a" stroke="#111" stroke-width="0.8"/>
<circle cx="138.7" cy="833.1" r="1.5" fill="#6a3d9a" stroke="#111" stroke-width="0.8"/>
<line x1="147.3" x2="147.3" y1="823.4" y2="831.3" stroke="#999" stroke-width="1.15"/>
<line x1="147.3" x2="147.3" y1="848.8" y2="859.3" stroke="#999" stroke-width="1.15"/>
<rect x="143.55" y="831.3" width="7.5" height="17.5" fill="#cab2d6" stroke="#333" stroke-width="0.75"/>
<line x1="143.55" x2="151.05" y1="839.7" y2="839.7" stroke="#444" stroke-width="0.9"/>
<circle cx="147.3" cy="823.4" r="1.5" fill="#cab2d6" stroke="#111" stroke-width="0.8"/>
<circle cx="147.3" cy="835.2" r="1.5" fill="#cab2d6" stroke="#111" stroke-width="0.8"/>
<circle cx="147.3" cy="845.3" r="1.5" fill="#cab2d6" stroke="#111" stroke-width="0.8"/>
<circle cx="147.3" cy="859.3" r="1.5" fill="#cab2d6" stroke="#111" stroke-width="0.8"/>
<line x1="155.9" x2="155.9" y1="798" y2="799.4" stroke="#777" stroke-width="1.15"/>
<line x1="155.9" x2="155.9" y1="828.3" y2="831.7" stroke="#777" stroke-width="1.15"/>
<rect x="152.15" y="799.4" width="7.5" height="28.9" fill="#ffd700" stroke="#333" stroke-width="0.75"/>
<line x1="152.15" x2="159.65" y1="813.4" y2="813.4" stroke="#444" stroke-width="0.9"/>
<circle cx="155.9" cy="798.9" r="1.5" fill="#ffd700" stroke="#111" stroke-width="0.8"/>
<circle cx="155.9" cy="827" r="1.5" fill="#ffd700" stroke="#111" stroke-width="0.8"/>
<circle cx="155.9" cy="831.3" r="1.5" fill="#ffd700" stroke="#111" stroke-width="0.8"/>
<line x1="164.5" x2="164.5" y1="834.8" y2="836.6" stroke="#777" stroke-width="1.15"/>
<line x1="164.5" x2="164.5" y1="857.1" y2="874.8" stroke="#777" stroke-width="1.15"/>
<rect x="160.75" y="836.6" width="7.5" height="20.5" fill="#f8911e" stroke="#333" stroke-width="0.75"/>
<line x1="160.75" x2="168.25" y1="844.5" y2="844.5" stroke="#444" stroke-width="0.9"/>
<circle cx="164.5" cy="835.7" r="1.5" fill="#f8911e" stroke="#111" stroke-width="0.8"/>
<circle cx="164.5" cy="837.4" r="1.5" fill="#f8911e" stroke="#111" stroke-width="0.8"/>
<circle cx="164.5" cy="850.9" r="1.5" fill="#f8911e" stroke="#111" stroke-width="0.8"/>
<circle cx="164.5" cy="874.8" r="1.5" fill="#f8911e" stroke="#111" stroke-width="0.8"/>
<line x1="173.1" x2="173.1" y1="776.7" y2="795.4" stroke="#aaa" stroke-width="1.15"/>
<line x1="173.1" x2="173.1" y1="815.5" y2="845" stroke="#aaa" stroke-width="1.15"/>
<rect x="169.35" y="795.4" width="7.5" height="20.1" fill="#7a5541" stroke="#333" stroke-width="0.75"/>
<line x1="169.35" x2="176.85" y1="802.9" y2="802.9" stroke="#444" stroke-width="0.9"/>
<circle cx="173.1" cy="776.7" r="1.5" fill="#7a5541" stroke="#111" stroke-width="0.8"/>
<circle cx="173.1" cy="801.2" r="1.5" fill="#7a5541" stroke="#111" stroke-width="0.8"/>
<circle cx="173.1" cy="805" r="1.5" fill="#7a5541" stroke="#111" stroke-width="0.8"/>
<circle cx="173.1" cy="845" r="1.5" fill="#7a5541" stroke="#111" stroke-width="0.8"/>
<line x1="181.7" x2="181.7" y1="820.5" y2="826.9" stroke="#666" stroke-width="1.15"/>
<rect x="177.95" y="826.9" width="7.5" height="6.2" fill="#4d4d4d" stroke="#333" stroke-width="0.75"/>
<line x1="177.95" x2="185.45" y1="829.5" y2="829.5" stroke="#444" stroke-width="0.9"/>
<circle cx="181.7" cy="820.5" r="1.5" fill="#4d4d4d" stroke="#111" stroke-width="0.8"/>
<circle cx="181.7" cy="828.7" r="1.5" fill="#4d4d4d" stroke="#111" stroke-width="0.8"/>
<circle cx="181.7" cy="832.2" r="1.5" fill="#4d4d4d" stroke="#111" stroke-width="0.8"/>
<line x1="218.3" x2="218.3" y1="832.3" y2="851.6" stroke="#666" stroke-width="1.15"/>
<line x1="218.3" x2="218.3" y1="866.8" y2="883.1" stroke="#666" stroke-width="1.15"/>
<rect x="214.55" y="851.6" width="7.5" height="15.2" fill="#1f6b2f" stroke="#333" stroke-width="0.75"/>
<line x1="214.55" x2="222.05" y1="859.2" y2="859.2" stroke="#444" stroke-width="0.9"/>
<circle cx="218.3" cy="832.3" r="1.5" fill="#1f6b2f" stroke="#111" stroke-width="0.8"/>
<circle cx="218.3" cy="857" r="1.5" fill="#1f6b2f" stroke="#111" stroke-width="0.8"/>
<circle cx="218.3" cy="860.4" r="1.5" fill="#1f6b2f" stroke="#111" stroke-width="0.8"/>
<circle cx="218.3" cy="883.1" r="1.5" fill="#1f6b2f" stroke="#111" stroke-width="0.8"/>
<line x1="226.9" x2="226.9" y1="953.5" y2="966.8" stroke="#777" stroke-width="1.15"/>
<rect x="223.15" y="914.3" width="7.5" height="39.2" fill="#33a34a" stroke="#333" stroke-width="0.75"/>
<line x1="223.15" x2="230.65" y1="944" y2="944" stroke="#444" stroke-width="0.9"/>
<circle cx="226.9" cy="839.9" r="1.5" fill="#33a34a" stroke="#111" stroke-width="0.8"/>
<circle cx="226.9" cy="938.9" r="1.5" fill="#33a34a" stroke="#111" stroke-width="0.8"/>
<circle cx="226.9" cy="948.4" r="1.5" fill="#33a34a" stroke="#111" stroke-width="0.8"/>
<circle cx="226.9" cy="966.8" r="1.5" fill="#33a34a" stroke="#111" stroke-width="0.8"/>
<line x1="235.5" x2="235.5" y1="834.5" y2="891.5" stroke="#777" stroke-width="1.15"/>
<line x1="235.5" x2="235.5" y1="976.3" y2="1008.6" stroke="#777" stroke-width="1.15"/>
<rect x="231.75" y="891.5" width="7.5" height="84.8" fill="#b2df8a" stroke="#333" stroke-width="0.75"/>
<line x1="231.75" x2="239.25" y1="937.6" y2="937.6" stroke="#444" stroke-width="0.9"/>
<circle cx="235.5" cy="834.5" r="1.5" fill="#b2df8a" stroke="#111" stroke-width="0.8"/>
<circle cx="235.5" cy="909.9" r="1.5" fill="#b2df8a" stroke="#111" stroke-width="0.8"/>
<circle cx="235.5" cy="965.5" r="1.5" fill="#b2df8a" stroke="#111" stroke-width="0.8"/>
<circle cx="235.5" cy="1008.6" r="1.5" fill="#b2df8a" stroke="#111" stroke-width="0.8"/>
<rect x="240.35" y="837" width="7.5" height="10.4" fill="#1f78b4" stroke="#333" stroke-width="0.75"/>
<line x1="240.35" x2="247.85" y1="840" y2="840" stroke="#444" stroke-width="0.9"/>
<circle cx="244.1" cy="837" r="1.5" fill="#1f78b4" stroke="#111" stroke-width="0.8"/>
<circle cx="244.1" cy="838.9" r="1.5" fill="#1f78b4" stroke="#111" stroke-width="0.8"/>
<circle cx="244.1" cy="841.4" r="1.5" fill="#1f78b4" stroke="#111" stroke-width="0.8"/>
<circle cx="244.1" cy="867.4" r="1.5" fill="#1f78b4" stroke="#111" stroke-width="0.8"/>
<line x1="252.7" x2="252.7" y1="869.8" y2="885.8" stroke="#888" stroke-width="1.15"/>
<line x1="252.7" x2="252.7" y1="935.1" y2="964.5" stroke="#888" stroke-width="1.15"/>
<rect x="248.95" y="885.8" width="7.5" height="49.3" fill="#a6cee3" stroke="#333" stroke-width="0.75"/>
<line x1="248.95" x2="256.45" y1="908.5" y2="908.5" stroke="#444" stroke-width="0.9"/>
<circle cx="252.7" cy="869.8" r="1.5" fill="#a6cee3" stroke="#111" stroke-width="0.8"/>
<circle cx="252.7" cy="891.1" r="1.5" fill="#a6cee3" stroke="#111" stroke-width="0.8"/>
<circle cx="252.7" cy="925.6" r="1.5" fill="#a6cee3" stroke="#111" stroke-width="0.8"/>
<circle cx="252.7" cy="964.5" r="1.5" fill="#a6cee3" stroke="#111" stroke-width="0.8"/>
<line x1="261.3" x2="261.3" y1="837.4" y2="888.8" stroke="#666" stroke-width="1.15"/>
<line x1="261.3" x2="261.3" y1="928.8" y2="938.9" stroke="#666" stroke-width="1.15"/>
<rect x="257.55" y="888.8" width="7.5" height="40" fill="#e31a1c" stroke="#333" stroke-width="0.75"/>
<line x1="257.55" x2="265.05" y1="916.1" y2="916.1" stroke="#444" stroke-width="0.9"/>
<circle cx="261.3" cy="837.4" r="1.5" fill="#e31a1c" stroke="#111" stroke-width="0.8"/>
<circle cx="261.3" cy="906.1" r="1.5" fill="#e31a1c" stroke="#111" stroke-width="0.8"/>
<circle cx="261.3" cy="925.6" r="1.5" fill="#e31a1c" stroke="#111" stroke-width="0.8"/>
<circle cx="261.3" cy="938.9" r="1.5" fill="#e31a1c" stroke="#111" stroke-width="0.8"/>
<line x1="269.9" x2="269.9" y1="880.3" y2="909.1" stroke="#aaa" stroke-width="1.15"/>
<line x1="269.9" x2="269.9" y1="1008.2" y2="1011.2" stroke="#aaa" stroke-width="1.15"/>
<rect x="266.15" y="909.1" width="7.5" height="99.1" fill="#fb9a99" stroke="#333" stroke-width="0.75"/>
<line x1="266.15" x2="273.65" y1="962.6" y2="962.6" stroke="#444" stroke-width="0.9"/>
<circle cx="269.9" cy="880.3" r="1.5" fill="#fb9a99" stroke="#111" stroke-width="0.8"/>
<circle cx="269.9" cy="919" r="1.5" fill="#fb9a99" stroke="#111" stroke-width="0.8"/>
<circle cx="269.9" cy="1006.7" r="1.5" fill="#fb9a99" stroke="#111" stroke-width="0.8"/>
<circle cx="269.9" cy="1011.2" r="1.5" fill="#fb9a99" stroke="#111" stroke-width="0.8"/>
<line x1="278.5" x2="278.5" y1="831.3" y2="834.2" stroke="#444" stroke-width="1.15"/>
<line x1="278.5" x2="278.5" y1="844.6" y2="855" stroke="#444" stroke-width="1.15"/>
<rect x="274.75" y="834.2" width="7.5" height="10.4" fill="#6a3d9a" stroke="#333" stroke-width="0.75"/>
<line x1="274.75" x2="282.25" y1="838.9" y2="838.9" stroke="#444" stroke-width="0.9"/>
<circle cx="278.5" cy="831.3" r="1.5" fill="#6a3d9a" stroke="#111" stroke-width="0.8"/>
<circle cx="278.5" cy="835.1" r="1.5" fill="#6a3d9a" stroke="#111" stroke-width="0.8"/>
<circle cx="278.5" cy="841.4" r="1.5" fill="#6a3d9a" stroke="#111" stroke-width="0.8"/>
<circle cx="278.5" cy="855" r="1.5" fill="#6a3d9a" stroke="#111" stroke-width="0.8"/>
<line x1="287.1" x2="287.1" y1="873.6" y2="927.5" stroke="#999" stroke-width="1.15"/>
<line x1="287.1" x2="287.1" y1="995.3" y2="1047.7" stroke="#999" stroke-width="1.15"/>
<rect x="283.35" y="927.5" width="7.5" height="67.8" fill="#cab2d6" stroke="#333" stroke-width="0.75"/>
<line x1="283.35" x2="290.85" y1="961.1" y2="961.1" stroke="#444" stroke-width="0.9"/>
<circle cx="287.1" cy="873.6" r="1.5" fill="#cab2d6" stroke="#111" stroke-width="0.8"/>
<circle cx="287.1" cy="945.5" r="1.5" fill="#cab2d6" stroke="#111" stroke-width="0.8"/>
<circle cx="287.1" cy="977.8" r="1.5" fill="#cab2d6" stroke="#111" stroke-width="0.8"/>
<circle cx="287.1" cy="1047.7" r="1.5" fill="#cab2d6" stroke="#111" stroke-width="0.8"/>
<line x1="295.7" x2="295.7" y1="734" y2="764.4" stroke="#777" stroke-width="1.15"/>
<line x1="295.7" x2="295.7" y1="823.2" y2="828.1" stroke="#777" stroke-width="1.15"/>
<rect x="291.95" y="764.4" width="7.5" height="58.8" fill="#ffd700" stroke="#333" stroke-width="0.75"/>
<line x1="291.95" x2="299.45" y1="798.2" y2="798.2" stroke="#444" stroke-width="0.9"/>
<circle cx="295.7" cy="734" r="1.5" fill="#ffd700" stroke="#111" stroke-width="0.8"/>
<circle cx="295.7" cy="774.5" r="1.5" fill="#ffd700" stroke="#111" stroke-width="0.8"/>
<circle cx="295.7" cy="821.8" r="1.5" fill="#ffd700" stroke="#111" stroke-width="0.8"/>
<circle cx="295.7" cy="828.1" r="1.5" fill="#ffd700" stroke="#111" stroke-width="0.8"/>
<line x1="304.3" x2="304.3" y1="799.1" y2="830" stroke="#777" stroke-width="1.15"/>
<line x1="304.3" x2="304.3" y1="881.2" y2="908.5" stroke="#777" stroke-width="1.15"/>
<rect x="300.55" y="830" width="7.5" height="51.2" fill="#f8911e" stroke="#333" stroke-width="0.75"/>
<line x1="300.55" x2="308.05" y1="856.6" y2="856.6" stroke="#444" stroke-width="0.9"/>
<circle cx="304.3" cy="799.1" r="1.5" fill="#f8911e" stroke="#111" stroke-width="0.8"/>
<circle cx="304.3" cy="840.2" r="1.5" fill="#f8911e" stroke="#111" stroke-width="0.8"/>
<circle cx="304.3" cy="871.7" r="1.5" fill="#f8911e" stroke="#111" stroke-width="0.8"/>
<circle cx="304.3" cy="908.5" r="1.5" fill="#f8911e" stroke="#111" stroke-width="0.8"/>
<line x1="312.9" x2="312.9" y1="695.7" y2="740.3" stroke="#aaa" stroke-width="1.15"/>
<line x1="312.9" x2="312.9" y1="843.3" y2="876.9" stroke="#aaa" stroke-width="1.15"/>
<rect x="309.15" y="740.3" width="7.5" height="103" fill="#7a5541" stroke="#333" stroke-width="0.75"/>
<line x1="309.15" x2="316.65" y1="793.4" y2="793.4" stroke="#444" stroke-width="0.9"/>
<circle cx="312.9" cy="695.7" r="1.5" fill="#7a5541" stroke="#111" stroke-width="0.8"/>
<circle cx="312.9" cy="754.9" r="1.5" fill="#7a5541" stroke="#111" stroke-width="0.8"/>
<circle cx="312.9" cy="831.9" r="1.5" fill="#7a5541" stroke="#111" stroke-width="0.8"/>
<circle cx="312.9" cy="876.9" r="1.5" fill="#7a5541" stroke="#111" stroke-width="0.8"/>
<line x1="321.5" x2="321.5" y1="833.8" y2="841.4" stroke="#666" stroke-width="1.15"/>
<rect x="317.75" y="841.4" width="7.5" height="26.9" fill="#4d4d4d" stroke="#333" stroke-width="0.75"/>
<line x1="317.75" x2="325.25" y1="856.6" y2="856.6" stroke="#444" stroke-width="0.9"/>
<circle cx="321.5" cy="833.8" r="1.5" fill="#4d4d4d" stroke="#111" stroke-width="0.8"/>
<circle cx="321.5" cy="844" r="1.5" fill="#4d4d4d" stroke="#111" stroke-width="0.8"/>
<circle cx="321.5" cy="868" r="1.5" fill="#4d4d4d" stroke="#111" stroke-width="0.8"/>
<line x1="358.2" x2="358.2" y1="832.1" y2="841.2" stroke="#666" stroke-width="1.15"/>
<line x1="358.2" x2="358.2" y1="860.6" y2="867.2" stroke="#666" stroke-width="1.15"/>
<rect x="354.45" y="841.2" width="7.5" height="19.4" fill="#1f6b2f" stroke="#333" stroke-width="0.75"/>
<line x1="354.45" x2="361.95" y1="851.5" y2="851.5" stroke="#444" stroke-width="0.9"/>
<circle cx="358.2" cy="832.1" r="1.5" fill="#1f6b2f" stroke="#111" stroke-width="0.8"/>
<circle cx="358.2" cy="844.5" r="1.5" fill="#1f6b2f" stroke="#111" stroke-width="0.8"/>
<circle cx="358.2" cy="858.3" r="1.5" fill="#1f6b2f" stroke="#111" stroke-width="0.8"/>
<circle cx="358.2" cy="867.2" r="1.5" fill="#1f6b2f" stroke="#111" stroke-width="0.8"/>
<line x1="366.8" x2="366.8" y1="832.1" y2="868.5" stroke="#777" stroke-width="1.15"/>
<line x1="366.8" x2="366.8" y1="919.8" y2="925.5" stroke="#777" stroke-width="1.15"/>
<rect x="363.05" y="868.5" width="7.5" height="51.3" fill="#33a34a" stroke="#333" stroke-width="0.75"/>
<line x1="363.05" x2="370.55" y1="899.5" y2="899.5" stroke="#444" stroke-width="0.9"/>
<circle cx="366.8" cy="832.1" r="1.5" fill="#33a34a" stroke="#111" stroke-width="0.8"/>
<circle cx="366.8" cy="880.5" r="1.5" fill="#33a34a" stroke="#111" stroke-width="0.8"/>
<circle cx="366.8" cy="917.9" r="1.5" fill="#33a34a" stroke="#111" stroke-width="0.8"/>
<circle cx="366.8" cy="925.5" r="1.5" fill="#33a34a" stroke="#111" stroke-width="0.8"/>
<line x1="375.4" x2="375.4" y1="832.1" y2="899.5" stroke="#777" stroke-width="1.15"/>
<line x1="375.4" x2="375.4" y1="968.6" y2="984.9" stroke="#777" stroke-width="1.15"/>
<rect x="371.65" y="899.5" width="7.5" height="69.1" fill="#b2df8a" stroke="#333" stroke-width="0.75"/>
<line x1="371.65" x2="379.15" y1="942.6" y2="942.6" stroke="#444" stroke-width="0.9"/>
<circle cx="375.4" cy="832.1" r="1.5" fill="#b2df8a" stroke="#111" stroke-width="0.8"/>
<circle cx="375.4" cy="921.1" r="1.5" fill="#b2df8a" stroke="#111" stroke-width="0.8"/>
<circle cx="375.4" cy="963.4" r="1.5" fill="#b2df8a" stroke="#111" stroke-width="0.8"/>
<circle cx="375.4" cy="984.9" r="1.5" fill="#b2df8a" stroke="#111" stroke-width="0.8"/>
<line x1="384" x2="384" y1="829.8" y2="834.4" stroke="#777" stroke-width="1.15"/>
<line x1="384" x2="384" y1="849.2" y2="857.7" stroke="#777" stroke-width="1.15"/>
<rect x="380.25" y="834.4" width="7.5" height="14.8" fill="#1f78b4" stroke="#333" stroke-width="0.75"/>
<line x1="380.25" x2="387.75" y1="841.6" y2="841.6" stroke="#444" stroke-width="0.9"/>
<circle cx="384" cy="829.8" r="1.5" fill="#1f78b4" stroke="#111" stroke-width="0.8"/>
<circle cx="384" cy="835.9" r="1.5" fill="#1f78b4" stroke="#111" stroke-width="0.8"/>
<circle cx="384" cy="846.9" r="1.5" fill="#1f78b4" stroke="#111" stroke-width="0.8"/>
<circle cx="384" cy="857.7" r="1.5" fill="#1f78b4" stroke="#111" stroke-width="0.8"/>
<line x1="392.6" x2="392.6" y1="846.9" y2="885.2" stroke="#888" stroke-width="1.15"/>
<line x1="392.6" x2="392.6" y1="936.9" y2="944.5" stroke="#888" stroke-width="1.15"/>
<rect x="388.85" y="885.2" width="7.5" height="51.7" fill="#a6cee3" stroke="#333" stroke-width="0.75"/>
<line x1="388.85" x2="396.35" y1="916.6" y2="916.6" stroke="#444" stroke-width="0.9"/>
<circle cx="392.6" cy="846.9" r="1.5" fill="#a6cee3" stroke="#111" stroke-width="0.8"/>
<circle cx="392.6" cy="898" r="1.5" fill="#a6cee3" stroke="#111" stroke-width="0.8"/>
<circle cx="392.6" cy="934" r="1.5" fill="#a6cee3" stroke="#111" stroke-width="0.8"/>
<circle cx="392.6" cy="944.5" r="1.5" fill="#a6cee3" stroke="#111" stroke-width="0.8"/>
<line x1="401.2" x2="401.2" y1="833.6" y2="863.8" stroke="#666" stroke-width="1.15"/>
<line x1="401.2" x2="401.2" y1="896.1" y2="920.7" stroke="#666" stroke-width="1.15"/>
<rect x="397.45" y="863.8" width="7.5" height="32.3" fill="#e31a1c" stroke="#333" stroke-width="0.75"/>
<line x1="397.45" x2="404.95" y1="880.9" y2="880.9" stroke="#444" stroke-width="0.9"/>
<circle cx="401.2" cy="833.6" r="1.5" fill="#e31a1c" stroke="#111" stroke-width="0.8"/>
<circle cx="401.2" cy="873.7" r="1.5" fill="#e31a1c" stroke="#111" stroke-width="0.8"/>
<circle cx="401.2" cy="888.1" r="1.5" fill="#e31a1c" stroke="#111" stroke-width="0.8"/>
<circle cx="401.2" cy="920.7" r="1.5" fill="#e31a1c" stroke="#111" stroke-width="0.8"/>
<line x1="409.8" x2="409.8" y1="840.7" y2="879.4" stroke="#aaa" stroke-width="1.15"/>
<line x1="409.8" x2="409.8" y1="948.8" y2="991" stroke="#aaa" stroke-width="1.15"/>
<rect x="406.05" y="879.4" width="7.5" height="69.4" fill="#fb9a99" stroke="#333" stroke-width="0.75"/>
<line x1="406.05" x2="413.55" y1="913.5" y2="913.5" stroke="#444" stroke-width="0.9"/>
<circle cx="409.8" cy="840.7" r="1.5" fill="#fb9a99" stroke="#111" stroke-width="0.8"/>
<circle cx="409.8" cy="891.9" r="1.5" fill="#fb9a99" stroke="#111" stroke-width="0.8"/>
<circle cx="409.8" cy="935" r="1.5" fill="#fb9a99" stroke="#111" stroke-width="0.8"/>
<circle cx="409.8" cy="991" r="1.5" fill="#fb9a99" stroke="#111" stroke-width="0.8"/>
<line x1="418.4" x2="418.4" y1="802.7" y2="811.2" stroke="#444" stroke-width="1.15"/>
<line x1="418.4" x2="418.4" y1="827.4" y2="831.7" stroke="#444" stroke-width="1.15"/>
<rect x="414.65" y="811.2" width="7.5" height="16.2" fill="#6a3d9a" stroke="#333" stroke-width="0.75"/>
<line x1="414.65" x2="422.15" y1="820.4" y2="820.4" stroke="#444" stroke-width="0.9"/>
<circle cx="418.4" cy="802.7" r="1.5" fill="#6a3d9a" stroke="#111" stroke-width="0.8"/>
<circle cx="418.4" cy="814.1" r="1.5" fill="#6a3d9a" stroke="#111" stroke-width="0.8"/>
<circle cx="418.4" cy="825.5" r="1.5" fill="#6a3d9a" stroke="#111" stroke-width="0.8"/>
<circle cx="418.4" cy="831.7" r="1.5" fill="#6a3d9a" stroke="#111" stroke-width="0.8"/>
<line x1="427" x2="427" y1="851.7" y2="915.6" stroke="#999" stroke-width="1.15"/>
<rect x="423.25" y="915.6" width="7.5" height="89" fill="#cab2d6" stroke="#333" stroke-width="0.75"/>
<line x1="423.25" x2="430.75" y1="970.1" y2="970.1" stroke="#444" stroke-width="0.9"/>
<circle cx="427" cy="851.7" r="1.5" fill="#cab2d6" stroke="#111" stroke-width="0.8"/>
<circle cx="427" cy="936.9" r="1.5" fill="#cab2d6" stroke="#111" stroke-width="0.8"/>
<circle cx="427" cy="1002.3" r="1.5" fill="#cab2d6" stroke="#111" stroke-width="0.8"/>
<circle cx="427" cy="1007.7" r="1.5" fill="#cab2d6" stroke="#111" stroke-width="0.8"/>
<line x1="435.6" x2="435.6" y1="770.4" y2="785.1" stroke="#777" stroke-width="1.15"/>
<line x1="435.6" x2="435.6" y1="826.4" y2="835" stroke="#777" stroke-width="1.15"/>
<rect x="431.85" y="785.1" width="7.5" height="41.3" fill="#ffd700" stroke="#333" stroke-width="0.75"/>
<line x1="431.85" x2="439.35" y1="806.5" y2="806.5" stroke="#444" stroke-width="0.9"/>
<circle cx="435.6" cy="770.4" r="1.5" fill="#ffd700" stroke="#111" stroke-width="0.8"/>
<circle cx="435.6" cy="790" r="1.5" fill="#ffd700" stroke="#111" stroke-width="0.8"/>
<circle cx="435.6" cy="823.6" r="1.5" fill="#ffd700" stroke="#111" stroke-width="0.8"/>
<circle cx="435.6" cy="835" r="1.5" fill="#ffd700" stroke="#111" stroke-width="0.8"/>
<line x1="444.2" x2="444.2" y1="802.7" y2="822.3" stroke="#777" stroke-width="1.15"/>
<line x1="444.2" x2="444.2" y1="840.7" y2="851.5" stroke="#777" stroke-width="1.15"/>
<rect x="440.45" y="822.3" width="7.5" height="18.4" fill="#f8911e" stroke="#333" stroke-width="0.75"/>
<line x1="440.45" x2="447.95" y1="832.1" y2="832.1" stroke="#444" stroke-width="0.9"/>
<circle cx="444.2" cy="802.7" r="1.5" fill="#f8911e" stroke="#111" stroke-width="0.8"/>
<circle cx="444.2" cy="828" r="1.5" fill="#f8911e" stroke="#111" stroke-width="0.8"/>
<circle cx="444.2" cy="836.9" r="1.5" fill="#f8911e" stroke="#111" stroke-width="0.8"/>
<circle cx="444.2" cy="851.5" r="1.5" fill="#f8911e" stroke="#111" stroke-width="0.8"/>
<line x1="452.8" x2="452.8" y1="804.6" y2="816" stroke="#aaa" stroke-width="1.15"/>
<rect x="449.05" y="816" width="7.5" height="35.5" fill="#7a5541" stroke="#333" stroke-width="0.75"/>
<line x1="449.05" x2="456.55" y1="826.4" y2="826.4" stroke="#444" stroke-width="0.9"/>
<circle cx="452.8" cy="804.6" r="1.5" fill="#7a5541" stroke="#111" stroke-width="0.8"/>
<circle cx="452.8" cy="819.8" r="1.5" fill="#7a5541" stroke="#111" stroke-width="0.8"/>
<circle cx="452.8" cy="833.6" r="1.5" fill="#7a5541" stroke="#111" stroke-width="0.8"/>
<circle cx="452.8" cy="905.5" r="1.5" fill="#7a5541" stroke="#111" stroke-width="0.8"/>
<line x1="461.4" x2="461.4" y1="832.1" y2="843.9" stroke="#666" stroke-width="1.15"/>
<rect x="457.65" y="843.9" width="7.5" height="6.8" fill="#4d4d4d" stroke="#333" stroke-width="0.75"/>
<line x1="457.65" x2="465.15" y1="846.5" y2="846.5" stroke="#444" stroke-width="0.9"/>
<circle cx="461.4" cy="832.1" r="1.5" fill="#4d4d4d" stroke="#111" stroke-width="0.8"/>
<circle cx="461.4" cy="846.7" r="1.5" fill="#4d4d4d" stroke="#111" stroke-width="0.8"/>
<circle cx="461.4" cy="853" r="1.5" fill="#4d4d4d" stroke="#111" stroke-width="0.8"/>
<rect x="46.5" y="678.5" width="447" height="386.5" fill="none" stroke="#7f7f7f" stroke-width="1"/>
<line x1="44.0" x2="46.5" y1="694.4" y2="694.4" stroke="#4d4d4d" stroke-width="0.9"/>
<text x="42.4" y="699" text-anchor="end" font-family="Liberation Sans" font-size="10.67" fill="#333">0.1</text>
<line x1="44.0" x2="46.5" y1="832.2" y2="832.2" stroke="#4d4d4d" stroke-width="0.9"/>
<text x="42.4" y="836.8" text-anchor="end" font-family="Liberation Sans" font-size="10.67" fill="#333">0.0</text>
<line x1="44.0" x2="46.5" y1="970" y2="970" stroke="#4d4d4d" stroke-width="0.9"/>
<text x="42.4" y="974.6" text-anchor="end" font-family="Liberation Sans" font-size="10.67" fill="#333">−0.1</text>
<line x1="130.1" x2="130.1" y1="1065" y2="1068" stroke="#4d4d4d" stroke-width="0.9"/>
<text x="130.1" y="1077.1" text-anchor="middle" font-family="Liberation Sans" font-size="10.67" fill="#333">FoundationOne</text>
<line x1="269.9" x2="269.9" y1="1065" y2="1068" stroke="#4d4d4d" stroke-width="0.9"/>
<text x="269.9" y="1077.1" text-anchor="middle" font-family="Liberation Sans" font-size="10.67" fill="#333">Guardant</text>
<line x1="409.8" x2="409.8" y1="1065" y2="1068" stroke="#4d4d4d" stroke-width="0.9"/>
<text x="409.8" y="1077.1" text-anchor="middle" font-family="Liberation Sans" font-size="10.67" fill="#333">Tempus</text>
<text x="269.8" y="1089.7" text-anchor="middle" font-family="Liberation Sans" font-size="12.1" fill="#000">Gene Panel</text>
<text transform="translate(17.2 871.8) rotate(-90)" text-anchor="middle" font-family="Liberation Sans" font-size="12.07" fill="#000">Change in median AUROC</text>
<text x="506.5" y="787.5" font-family="Liberation Sans" font-size="12" fill="#000">Feature</text>
<line x1="512.6" x2="512.6" y1="796.1" y2="806.9" stroke="#4a4a4a" stroke-width="0.8"/>
<rect x="507.4" y="798.1" width="10.4" height="6.8" fill="#1f6b2f" stroke="#555" stroke-width="0.7"/>
<line x1="507.4" x2="517.8" y1="801.5" y2="801.5" stroke="#444" stroke-width="0.8"/>
<circle cx="512.6" cy="801.5" r="1.5" fill="#1f6b2f" stroke="#111" stroke-width="0.8"/>
<text x="525.7" y="805.3" font-family="Liberation Sans" font-size="10.67" fill="#000">All Exons Depth</text>
<line x1="512.6" x2="512.6" y1="809.27" y2="820.07" stroke="#4a4a4a" stroke-width="0.8"/>
<rect x="507.4" y="811.27" width="10.4" height="6.8" fill="#33a34a" stroke="#555" stroke-width="0.7"/>
<line x1="507.4" x2="517.8" y1="814.67" y2="814.67" stroke="#444" stroke-width="0.8"/>
<circle cx="512.6" cy="814.67" r="1.5" fill="#33a34a" stroke="#111" stroke-width="0.8"/>
<text x="525.7" y="818.47" font-family="Liberation Sans" font-size="10.67" fill="#000">Full Gene Depth</text>
<line x1="512.6" x2="512.6" y1="822.44" y2="833.24" stroke="#4a4a4a" stroke-width="0.8"/>
<rect x="507.4" y="824.44" width="10.4" height="6.8" fill="#b2df8a" stroke="#555" stroke-width="0.7"/>
<line x1="507.4" x2="517.8" y1="827.84" y2="827.84" stroke="#444" stroke-width="0.8"/>
<circle cx="512.6" cy="827.84" r="1.5" fill="#b2df8a" stroke="#111" stroke-width="0.8"/>
<text x="525.7" y="831.64" font-family="Liberation Sans" font-size="10.67" fill="#000">E1 Depth</text>
<line x1="512.6" x2="512.6" y1="835.61" y2="846.41" stroke="#4a4a4a" stroke-width="0.8"/>
<rect x="507.4" y="837.61" width="10.4" height="6.8" fill="#1f78b4" stroke="#555" stroke-width="0.7"/>
<line x1="507.4" x2="517.8" y1="841.01" y2="841.01" stroke="#444" stroke-width="0.8"/>
<circle cx="512.6" cy="841.01" r="1.5" fill="#1f78b4" stroke="#111" stroke-width="0.8"/>
<text x="525.7" y="844.81" font-family="Liberation Sans" font-size="10.67" fill="#000">All Exons SE</text>
<line x1="512.6" x2="512.6" y1="848.78" y2="859.58" stroke="#4a4a4a" stroke-width="0.8"/>
<rect x="507.4" y="850.78" width="10.4" height="6.8" fill="#a6cee3" stroke="#555" stroke-width="0.7"/>
<line x1="507.4" x2="517.8" y1="854.18" y2="854.18" stroke="#444" stroke-width="0.8"/>
<circle cx="512.6" cy="854.18" r="1.5" fill="#a6cee3" stroke="#111" stroke-width="0.8"/>
<text x="525.7" y="857.98" font-family="Liberation Sans" font-size="10.67" fill="#000">E1 SE</text>
<line x1="512.6" x2="512.6" y1="861.95" y2="872.75" stroke="#4a4a4a" stroke-width="0.8"/>
<rect x="507.4" y="863.95" width="10.4" height="6.8" fill="#e31a1c" stroke="#555" stroke-width="0.7"/>
<line x1="507.4" x2="517.8" y1="867.35" y2="867.35" stroke="#444" stroke-width="0.8"/>
<circle cx="512.6" cy="867.35" r="1.5" fill="#e31a1c" stroke="#111" stroke-width="0.8"/>
<text x="525.7" y="871.15" font-family="Liberation Sans" font-size="10.67" fill="#000">All Exons MDS</text>
<line x1="512.6" x2="512.6" y1="875.12" y2="885.92" stroke="#4a4a4a" stroke-width="0.8"/>
<rect x="507.4" y="877.12" width="10.4" height="6.8" fill="#fb9a99" stroke="#555" stroke-width="0.7"/>
<line x1="507.4" x2="517.8" y1="880.52" y2="880.52" stroke="#444" stroke-width="0.8"/>
<circle cx="512.6" cy="880.52" r="1.5" fill="#fb9a99" stroke="#111" stroke-width="0.8"/>
<text x="525.7" y="884.32" font-family="Liberation Sans" font-size="10.67" fill="#000">E1 MDS</text>
<line x1="512.6" x2="512.6" y1="888.29" y2="899.09" stroke="#4a4a4a" stroke-width="0.8"/>
<rect x="507.4" y="890.29" width="10.4" height="6.8" fill="#6a3d9a" stroke="#555" stroke-width="0.7"/>
<line x1="507.4" x2="517.8" y1="893.69" y2="893.69" stroke="#444" stroke-width="0.8"/>
<circle cx="512.6" cy="893.69" r="1.5" fill="#6a3d9a" stroke="#111" stroke-width="0.8"/>
<text x="525.7" y="897.49" font-family="Liberation Sans" font-size="10.67" fill="#000">All Exons Small Fragments</text>
<line x1="512.6" x2="512.6" y1="901.46" y2="912.26" stroke="#4a4a4a" stroke-width="0.8"/>
<rect x="507.4" y="903.46" width="10.4" height="6.8" fill="#cab2d6" stroke="#555" stroke-width="0.7"/>
<line x1="507.4" x2="517.8" y1="906.86" y2="906.86" stroke="#444" stroke-width="0.8"/>
<circle cx="512.6" cy="906.86" r="1.5" fill="#cab2d6" stroke="#111" stroke-width="0.8"/>
<text x="525.7" y="910.66" font-family="Liberation Sans" font-size="10.67" fill="#000">E1 Small Fragments</text>
<line x1="512.6" x2="512.6" y1="914.63" y2="925.43" stroke="#4a4a4a" stroke-width="0.8"/>
<rect x="507.4" y="916.63" width="10.4" height="6.8" fill="#ffd700" stroke="#555" stroke-width="0.7"/>
<line x1="507.4" x2="517.8" y1="920.03" y2="920.03" stroke="#444" stroke-width="0.8"/>
<circle cx="512.6" cy="920.03" r="1.5" fill="#ffd700" stroke="#111" stroke-width="0.8"/>
<text x="525.7" y="923.83" font-family="Liberation Sans" font-size="10.67" fill="#000">Fragment Bins</text>
<line x1="512.6" x2="512.6" y1="927.8" y2="938.6" stroke="#4a4a4a" stroke-width="0.8"/>
<rect x="507.4" y="929.8" width="10.4" height="6.8" fill="#f8911e" stroke="#555" stroke-width="0.7"/>
<line x1="507.4" x2="517.8" y1="933.2" y2="933.2" stroke="#444" stroke-width="0.8"/>
<circle cx="512.6" cy="933.2" r="1.5" fill="#f8911e" stroke="#111" stroke-width="0.8"/>
<text x="525.7" y="937" font-family="Liberation Sans" font-size="10.67" fill="#000">TFBS Entropy</text>
<line x1="512.6" x2="512.6" y1="940.97" y2="951.77" stroke="#4a4a4a" stroke-width="0.8"/>
<rect x="507.4" y="942.97" width="10.4" height="6.8" fill="#7a5541" stroke="#555" stroke-width="0.7"/>
<line x1="507.4" x2="517.8" y1="946.37" y2="946.37" stroke="#444" stroke-width="0.8"/>
<circle cx="512.6" cy="946.37" r="1.5" fill="#7a5541" stroke="#111" stroke-width="0.8"/>
<text x="525.7" y="950.17" font-family="Liberation Sans" font-size="10.67" fill="#000">ATAC Entropy</text>
<line x1="512.6" x2="512.6" y1="954.14" y2="964.94" stroke="#4a4a4a" stroke-width="0.8"/>
<rect x="507.4" y="956.14" width="10.4" height="6.8" fill="#4d4d4d" stroke="#555" stroke-width="0.7"/>
<line x1="507.4" x2="517.8" y1="959.54" y2="959.54" stroke="#444" stroke-width="0.8"/>
<circle cx="512.6" cy="959.54" r="1.5" fill="#4d4d4d" stroke="#111" stroke-width="0.8"/>
<text x="525.7" y="963.34" font-family="Liberation Sans" font-size="10.67" fill="#000">All Combined</text>
</svg>
</body></html>
